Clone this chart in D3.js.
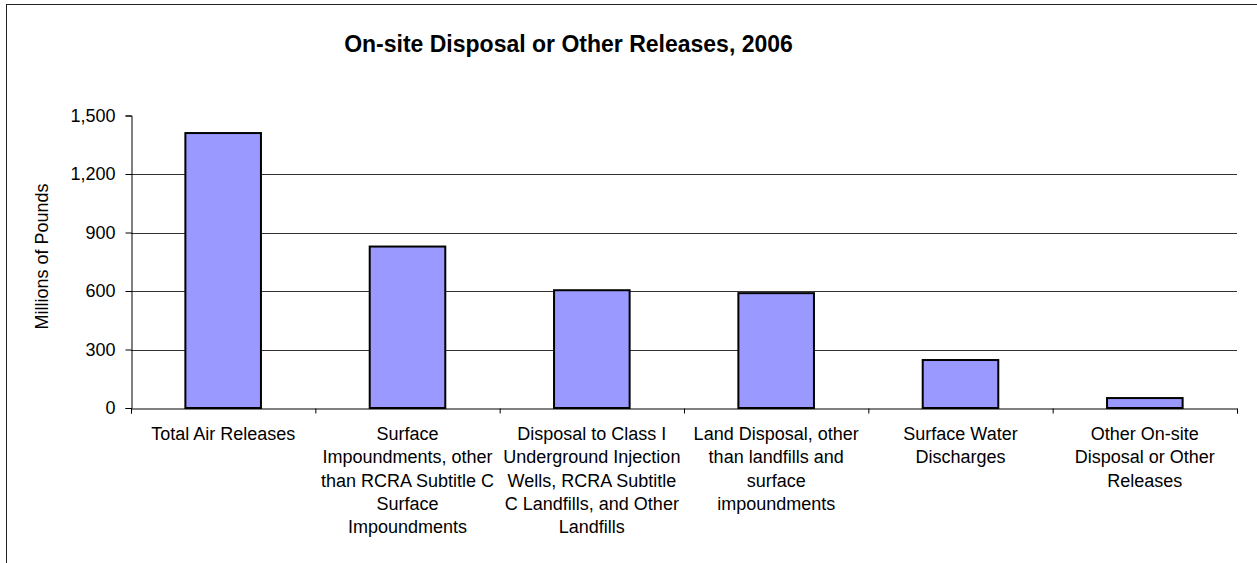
<!DOCTYPE html>
<html>
<head>
<meta charset="utf-8">
<script src="https://cdn.jsdelivr.net/npm/d3@7"></script>
<style>
  body { margin: 0; background: #fff; }
  svg { display: block; font-family: Arial, "Liberation Sans", sans-serif; }
</style>
</head>
<body>
<svg id="chart" width="1257" height="563"></svg>
<script>
// categories as they appear on the x axis (line breaks follow the original wrapping)
const categories = [
  "Total Air Releases",
  "Surface\nImpoundments, other\nthan RCRA Subtitle C\nSurface\nImpoundments",
  "Disposal to Class I\nUnderground Injection\nWells, RCRA Subtitle\nC Landfills, and Other\nLandfills",
  "Land Disposal, other\nthan landfills and\nsurface\nimpoundments",
  "Surface Water\nDischarges",
  "Other On-site\nDisposal or Other\nReleases"
];
// millions of pounds
const values = [1410, 828, 604, 589, 246, 51];
const yTicks = [0, 300, 600, 900, 1200, 1500];

const title = "On-site Disposal or Other Releases, 2006";
const yLabel = "Millions of Pounds";

const margin = {top: 115.5, right: 20, bottom: 155, left: 131};
const W = 1257, H = 563;
const x0 = margin.left, x1 = 1237;
const y0 = H - margin.bottom, y1 = margin.top;

const svg = d3.select("#chart");

// outer frame of the chart area
svg.append("rect")
  .attr("x", 6.5).attr("y", 4.5)
  .attr("width", 1400).attr("height", 700)
  .attr("fill", "none").attr("stroke", "#222").attr("stroke-width", 1);

const x = d3.scaleBand()
  .domain(categories)
  .range([x0, x1])
  .paddingInner(0.59)
  .paddingOuter(0.295);

const y = d3.scaleLinear().domain([0, 1500]).range([y0, y1]);

// gridlines (none at the top value)
svg.append("g")
  .selectAll("line")
  .data(yTicks.filter(t => t > 0 && t < 1500))
  .join("line")
  .attr("x1", x0).attr("x2", x1)
  .attr("y1", d => Math.round(y(d)) + 0.5)
  .attr("y2", d => Math.round(y(d)) + 0.5)
  .attr("stroke", "#333").attr("stroke-width", 1);

// bars
svg.append("g")
  .selectAll("rect")
  .data(values)
  .join("rect")
  .attr("x", (d, i) => x(categories[i]))
  .attr("y", d => y(d))
  .attr("width", x.bandwidth())
  .attr("height", d => y(0) - y(d))
  .attr("fill", "#9999FF")
  .attr("stroke", "#000")
  .attr("stroke-width", 2);

// y axis
const yAxis = d3.axisLeft(y)
  .tickValues(yTicks)
  .tickSize(6)
  .tickPadding(10)
  .tickFormat(d3.format(","));

svg.append("g")
  .attr("transform", `translate(${x0 + 0.5},0)`)
  .call(yAxis)
  .call(g => g.selectAll("text").attr("font-size", 18).attr("fill", "#000").attr("font-family", null))
  .call(g => g.selectAll("line").attr("stroke", "#000"))
  .call(g => g.select(".domain").attr("stroke", "#000"));

// x axis: tick marks sit on the category boundaries
const xb = d3.scaleLinear().domain([0, categories.length]).range([x0, x1]);
svg.append("g")
  .attr("transform", `translate(0,${Math.round(y0) + 0.5})`)
  .call(d3.axisBottom(xb).ticks(categories.length).tickSize(5).tickFormat(""))
  .call(g => g.selectAll("line").attr("stroke", "#000"))
  .call(g => g.select(".domain").attr("stroke", "#000"));

// x axis labels, centred under each band
const labels = svg.append("g")
  .attr("font-size", 18)
  .attr("text-anchor", "middle")
  .attr("fill", "#000");

labels.selectAll("text")
  .data(categories)
  .join("text")
  .attr("transform", d => `translate(${x(d) + x.bandwidth() / 2},${y0 + 32})`)
  .each(function(d) {
    d3.select(this).selectAll("tspan")
      .data(d.split("\n"))
      .join("tspan")
      .attr("x", 0)
      .attr("y", (l, i) => i * 23.3)
      .text(l => l);
  });

// y axis title
svg.append("text")
  .attr("transform", `translate(48,256.5) rotate(-90)`)
  .attr("text-anchor", "middle")
  .attr("font-size", 18)
  .attr("fill", "#000")
  .text(yLabel);

// chart title
svg.append("text")
  .attr("x", 568.5)
  .attr("y", 52)
  .attr("text-anchor", "middle")
  .attr("font-size", 23)
  .attr("font-weight", "bold")
  .attr("fill", "#000")
  .text(title);
</script>
</body>
</html>
